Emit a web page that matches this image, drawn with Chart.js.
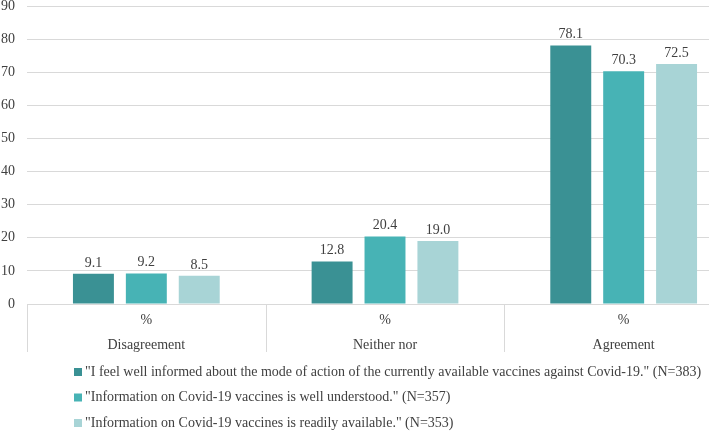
<!DOCTYPE html>
<html>
<head>
<meta charset="utf-8">
<script src="https://cdn.jsdelivr.net/npm/chart.js@4/dist/chart.umd.min.js"></script>
<style>
  html,body{margin:0;padding:0;background:#fff;overflow:hidden;}
  /* the original figure is cut off on the right, so the chart is wider than the window */
  #wrap{width:745px;height:431px;position:relative;}
</style>
</head>
<body>
<div id="wrap"><canvas id="chart"></canvas></div>
<script>
// data
const categories = [["%", "Disagreement"], ["%", "Neither nor"], ["%", "Agreement"]];
const seriesNames = [
  "\"I feel well informed about the mode of action of the currently available vaccines against Covid-19.\" (N=383)",
  "\"Information on Covid-19 vaccines is well understood.\" (N=357)",
  "\"Information on Covid-19 vaccines is readily available.\" (N=353)"
];
const informed = [9.1, 12.8, 78.1];
const understood = [9.2, 20.4, 70.3];
const available = [8.5, 19.0, 72.5];
const yTicks = [0, 10, 20, 30, 40, 50, 60, 70, 80, 90];

const colors = ["#3a9194", "#47b3b5", "#a8d4d6"];
const FONT = "'Liberation Serif', 'Times New Roman', serif";
const TXT = "#404040";
const LINE = "#d9d9d9";

/* ====== value labels above bars ====== */
const valueLabels = {
  id: "valueLabels",
  afterDatasetsDraw(chart){
    const ctx = chart.ctx;
    ctx.save();
    ctx.font = "14px " + FONT;
    ctx.fillStyle = TXT;
    ctx.textAlign = "center";
    ctx.textBaseline = "bottom";
    chart.data.datasets.forEach((ds, i) => {
      chart.getDatasetMeta(i).data.forEach((bar, j) => {
        ctx.fillText(ds.data[j].toFixed(1), bar.x, bar.y - 4);
      });
    });
    ctx.restore();
  }
};

/* ====== category separators under the axis ====== */
const separators = {
  id: "separators",
  afterDraw(chart){
    const x = chart.scales.x, ctx = chart.ctx;
    const n = chart.data.labels.length;
    const step = (x.right - x.left) / n;
    ctx.save();
    ctx.strokeStyle = LINE;
    ctx.lineWidth = 1;
    for (let i = 0; i <= n; i++){
      const px = Math.round(x.left + i * step) + 0.5;
      ctx.beginPath();
      ctx.moveTo(px, x.top);
      ctx.lineTo(px, x.top + 48);
      ctx.stroke();
    }
    ctx.restore();
  }
};

/* ====== legend: one row per series, left aligned ====== */
const rowLegend = {
  id: "rowLegend",
  afterDraw(chart){
    const ctx = chart.ctx;
    ctx.save();
    ctx.font = "14px " + FONT;
    ctx.textBaseline = "middle";
    ctx.textAlign = "left";
    chart.data.datasets.forEach((ds, i) => {
      const y = 372 + i * 25.5;
      ctx.fillStyle = ds.backgroundColor;
      ctx.fillRect(74, y - 4, 8, 8);
      ctx.fillStyle = TXT;
      ctx.fillText(ds.label, 85, y);
    });
    ctx.restore();
  }
};

new Chart(document.getElementById("chart"), {
  type: "bar",
  data: {
    labels: categories,
    datasets: [
      { label: seriesNames[0], data: informed, backgroundColor: colors[0] },
      { label: seriesNames[1], data: understood, backgroundColor: colors[1] },
      { label: seriesNames[2], data: available, backgroundColor: colors[2] }
    ]
  },
  options: {
    responsive: true,
    maintainAspectRatio: false,
    animation: false,
    devicePixelRatio: 1,
    categoryPercentage: 0.665,
    barPercentage: 0.774,
    layout: { padding: { top: 6, right: 2, left: 0, bottom: 79 } },
    plugins: { legend: { display: false }, tooltip: { enabled: false } },
    scales: {
      x: {
        afterFit: axis => { axis.height = 48; axis.paddingLeft = 0; axis.paddingRight = 0; },
        grid: { drawOnChartArea: false, drawTicks: false },
        border: { display: true, color: LINE },
        ticks: { color: TXT, padding: 4, autoSkip: false, maxRotation: 0, font: { family: FONT, size: 14, lineHeight: "25px" } }
      },
      y: {
        min: 0, max: 90,
        afterBuildTicks: axis => { axis.ticks = yTicks.map(v => ({ value: v })); },
        afterFit: axis => { axis.width = 27; axis.paddingTop = 0; axis.paddingBottom = 0; },
        grid: { color: LINE, drawTicks: false },
        border: { display: false },
        ticks: { color: TXT, padding: 12, font: { family: FONT, size: 14 } }
      }
    }
  },
  plugins: [valueLabels, separators, rowLegend]
});
</script>
</body>
</html>
